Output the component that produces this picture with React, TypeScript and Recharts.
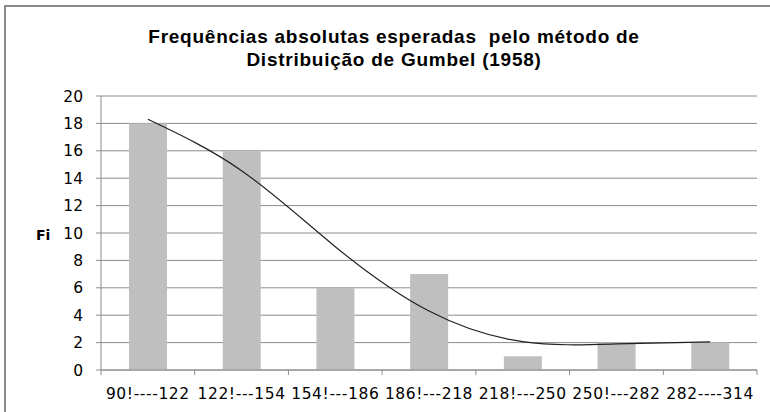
import React from "react";
import { ComposedChart, Bar, Line, XAxis, YAxis, CartesianGrid } from "recharts";

const categories = [
  "90!----122",
  "122!---154",
  "154!---186",
  "186!---218",
  "218!---250",
  "250!---282",
  "282----314",
];
const frequencies = [18, 16, 6, 7, 1, 2, 2];
const trendline = [18.3, 14.55, 9.0, 4.3, 2.07, 1.9, 2.05];
const yTicks = [0, 2, 4, 6, 8, 10, 12, 14, 16, 18, 20];
const titleLines = [
  "Frequências absolutas esperadas  pelo método de",
  "Distribuição de Gumbel (1958)",
];
const yLabel = "Fi";

const data = categories.map((c, i) => ({
  cat: c,
  fi: frequencies[i],
  trend: trendline[i],
}));

const W = 770;
const H = 412;
const MARGIN = { top: 96, right: 13, bottom: 12, left: 0 };
const Y_AXIS_W = 101;
const X_AXIS_H = 30;
const PLOT_W = W - MARGIN.left - MARGIN.right - Y_AXIS_W;
const FONT = "'DejaVu Sans', sans-serif";
const TITLE_FONT = "'Liberation Sans', Arial, sans-serif";
const AXIS_COLOR = "#8C8C8C";
const TICK_SIZE = 5;
const TICK_MARGIN = 13;

function XTick(props: any) {
  const { x, y, payload, index } = props;
  const band = PLOT_W / categories.length;
  const axisY = y - TICK_SIZE - TICK_MARGIN;
  const isLast = index === categories.length - 1;
  return (
    <g>
      <line x1={x - band / 2} y1={axisY} x2={x - band / 2} y2={axisY + 5} stroke={AXIS_COLOR} />
      {isLast && (
        <line x1={x + band / 2} y1={axisY} x2={x + band / 2} y2={axisY + 5} stroke={AXIS_COLOR} />
      )}
      <text
        x={x}
        y={axisY + 29}
        textAnchor="middle"
        fontFamily={FONT}
        fontSize={15.5}
        letterSpacing={0.6}
        fill="#000"
      >
        {payload.value}
      </text>
    </g>
  );
}

export default function App() {
  return (
    <div
      style={{
        position: "absolute",
        left: 0,
        top: 0,
        width: W,
        height: H,
        overflow: "hidden",
        background: "#fff",
      }}
    >
      <div
        style={{
          position: "absolute",
          left: 4,
          top: 5,
          width: 820,
          height: 440,
          border: "2px solid #8A8A8A",
          boxSizing: "border-box",
        }}
      />
      <div style={{ position: "absolute", left: 0, top: 0 }}>
        <ComposedChart width={W} height={H} data={data} margin={MARGIN}>
          <CartesianGrid horizontal vertical={false} stroke={AXIS_COLOR} strokeDasharray="" />
          <XAxis
            dataKey="cat"
            height={X_AXIS_H}
            interval={0}
            tickLine={false}
            tickSize={TICK_SIZE}
            tickMargin={TICK_MARGIN}
            axisLine={{ stroke: AXIS_COLOR }}
            tick={<XTick />}
          />
          <YAxis
            width={Y_AXIS_W}
            domain={[0, 20]}
            ticks={yTicks}
            interval={0}
            tickSize={TICK_SIZE}
            tickMargin={13}
            tickLine={{ stroke: AXIS_COLOR }}
            axisLine={{ stroke: AXIS_COLOR }}
            tick={{ fontFamily: FONT, fontSize: 15.5, fill: "#000" }}
          />
          <Bar dataKey="fi" fill="#BFBFBF" barSize={38} isAnimationActive={false} />
          <Line
            dataKey="trend"
            type="natural"
            stroke="#222"
            strokeWidth={1.2}
            dot={false}
            activeDot={false}
            isAnimationActive={false}
          />
        </ComposedChart>
      </div>
      <svg
        width={W}
        height={H}
        style={{ position: "absolute", left: 0, top: 0, pointerEvents: "none" }}
      >
        <text
          x={394}
          y={43}
          textAnchor="middle"
          fontFamily={TITLE_FONT}
          fontWeight="bold"
          fontSize={19}
          letterSpacing={0.75}
          style={{ whiteSpace: "pre" }}
          fill="#000"
        >
          {titleLines[0]}
        </text>
        <text
          x={394}
          y={66}
          textAnchor="middle"
          fontFamily={TITLE_FONT}
          fontWeight="bold"
          fontSize={19}
          letterSpacing={0.75}
          style={{ whiteSpace: "pre" }}
          fill="#000"
        >
          {titleLines[1]}
        </text>
        <text x={36} y={240} fontFamily={FONT} fontWeight="bold" fontSize={14} fill="#000">
          {yLabel}
        </text>
      </svg>
    </div>
  );
}
